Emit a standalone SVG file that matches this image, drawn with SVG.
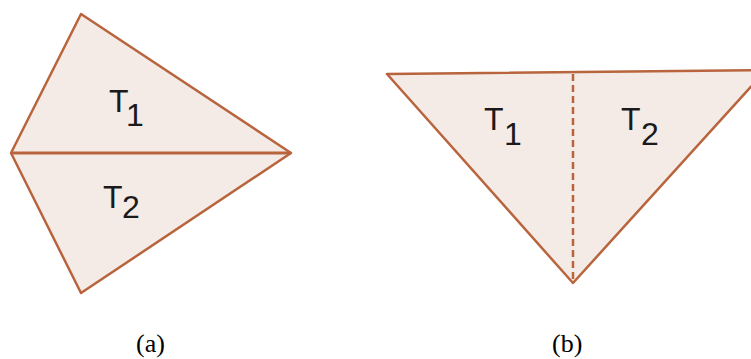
<svg xmlns="http://www.w3.org/2000/svg" width="751" height="359" viewBox="0 0 751 359">
<style>
.fill{fill:#f4ebe7;stroke:none}
.edge{stroke:#b8643c;stroke-width:2.5;fill:none;stroke-linejoin:round}
.mid{stroke:#b8643c;stroke-width:3;fill:none}
.dash{stroke:#b8643c;stroke-width:2.5;stroke-dasharray:7 4;fill:none}
.lbl{font-family:"Liberation Sans",Arial,sans-serif;font-size:32px;fill:#1a1a1a}
.cap{font-family:"Liberation Serif","Times New Roman",serif;font-size:26px;fill:#000}
</style>
<rect width="751" height="359" fill="#fff"/>
<g id="fig-a">
  <g id="a-T1">
    <polygon class="fill" points="81,14 11,153 291,153"/>
    <text class="lbl" x="109" y="112">T</text>
    <text class="lbl" x="126" y="126">1</text>
  </g>
  <g id="a-T2">
    <polygon class="fill" points="11,153 291,153 81,293"/>
    <text class="lbl" x="103" y="208">T</text>
    <text class="lbl" x="122" y="218">2</text>
  </g>
  <polygon class="edge" points="81,14 291,153 81,293 11,153"/>
</g>
<g id="fig-b">
  <g id="b-T1">
    <polygon class="fill" points="387,74 573,72 573,283"/>
    <text class="lbl" x="484" y="130">T</text>
    <text class="lbl" x="504" y="145">1</text>
  </g>
  <g id="b-T2">
    <polygon class="fill" points="573,72 766,70 573,283"/>
    <text class="lbl" x="621" y="130">T</text>
    <text class="lbl" x="641" y="145">2</text>
  </g>
  <polygon class="edge" points="387,74 766,70 573,283"/>
</g>
<g id="connectors">
  <line class="mid" x1="11" y1="153" x2="291" y2="153"/>
  <line class="dash" x1="573" y1="74" x2="573" y2="281"/>
</g>
<text class="cap" x="136" y="352">(a)</text>
<text class="cap" x="552" y="352">(b)</text>
</svg>
